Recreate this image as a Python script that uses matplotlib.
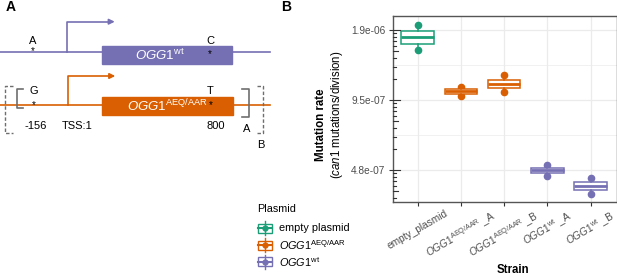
import numpy as np
import matplotlib
matplotlib.use("Agg")
import matplotlib.pyplot as plt
from matplotlib.patches import Rectangle

plt.rcParams['font.family'] = ['Liberation Sans', 'DejaVu Sans']
plt.rcParams['mathtext.fontset'] = 'custom'
plt.rcParams['mathtext.rm'] = 'Liberation Sans'
plt.rcParams['mathtext.it'] = 'Liberation Sans:italic'
plt.rcParams['mathtext.bf'] = 'Liberation Sans:bold'

# data (mutation rate, 3 fluctuation assays per strain)
strains = ["empty_plasmid", "OGG1_AEQ_A", "OGG1_AEQ_B", "OGG1_wt_A", "OGG1_wt_B"]
strain_labels = ["empty_plasmid",
                 r"$\mathit{OGG1}^{\mathrm{AEQ/AAR}}$ _A",
                 r"$\mathit{OGG1}^{\mathrm{AEQ/AAR}}$ _B",
                 r"$\mathit{OGG1}^{\mathrm{wt}}$ _A",
                 r"$\mathit{OGG1}^{\mathrm{wt}}$ _B"]
empty_plasmid = [2.01e-6, 1.774e-6, 1.564e-6]
aeq_a = [1.088e-6, 1.042e-6, 0.989e-6]
aeq_b = [1.218e-6, 1.117e-6, 1.032e-6]
wt_a = [5.009e-7, 4.755e-7, 4.49e-7]
wt_b = [4.418e-7, 4.067e-7, 3.748e-7]
rates = [empty_plasmid, aeq_a, aeq_b, wt_a, wt_b]
plasmid = ["empty plasmid", "AEQ", "AEQ", "wt", "wt"]
legend_labels = ["empty plasmid", r"$\mathit{OGG1}^{\mathrm{AEQ/AAR}}$", r"$\mathit{OGG1}^{\mathrm{wt}}$"]
colors = {"empty plasmid": "#1B9E77", "AEQ": "#D95F02", "wt": "#7570B3"}
ybreaks = [-19, -20, -21]

W, H = 617, 278
fig = plt.figure(figsize=(W / 100, H / 100), dpi=100)

# overlay axes in pixel coords for panel A + legend
ax0 = fig.add_axes([0, 0, 1, 1])
ax0.set_xlim(0, W)
ax0.set_ylim(H, 0)
ax0.axis('off')

purple = colors["wt"]
orange = colors["AEQ"]
gray = "#6E6E6E"

ax0.text(6, 7, "A", fontsize=10, fontweight='bold', va='center')
ax0.text(281, 7, "B", fontsize=10, fontweight='bold', va='center')

# wt construct
ax0.plot([0, 270], [52, 52], color=purple, lw=1.2)
ax0.add_patch(Rectangle((101.7, 45.7), 130, 18.3, color=purple, zorder=3))
ax0.plot([67.3, 67.3, 110], [52, 21.7, 21.7], color=purple, lw=1.2)
ax0.annotate("", xy=(117.5, 21.7), xytext=(108, 21.7),
             arrowprops=dict(arrowstyle='-|>', color=purple, lw=1.2, mutation_scale=8))
ax0.text(160, 55, r"$\mathit{OGG1}^{\mathrm{wt}}$", color='white', fontsize=9.5,
         ha='center', va='center', zorder=4)
ax0.text(32.7, 41.5, "A", fontsize=8, ha='center', va='center')
ax0.text(32.7, 51, "*", fontsize=7, ha='center', va='center')
ax0.text(210, 41, "C", fontsize=8, ha='center', va='center')
ax0.text(210, 54, "*", fontsize=7, ha='center', va='center', zorder=5)

# AEQ/AAR construct
ax0.plot([0, 270], [104.7, 104.7], color=orange, lw=1.2)
ax0.add_patch(Rectangle((101.7, 96.7), 131, 18.3, color=orange, zorder=3))
ax0.plot([68, 68, 110], [104.7, 76, 76], color=orange, lw=1.2)
ax0.annotate("", xy=(118, 76), xytext=(108, 76),
             arrowprops=dict(arrowstyle='-|>', color=orange, lw=1.2, mutation_scale=8))
ax0.text(168, 106, r"$\mathit{OGG1}^{\mathrm{AEQ/AAR}}$", color='white', fontsize=9.5,
         ha='center', va='center', zorder=4)
ax0.text(34, 91, "G", fontsize=8, ha='center', va='center')
ax0.text(33.5, 105.5, "*", fontsize=7, ha='center', va='center')
ax0.text(210, 91, "T", fontsize=8, ha='center', va='center')
ax0.text(211, 105.5, "*", fontsize=7, ha='center', va='center', zorder=5)

# brackets
ax0.plot([23.3, 16.7, 16.7, 23.3], [89, 89, 108, 108], color=gray, lw=1.2)
ax0.plot([241.7, 249.3, 249.3, 241.7], [89, 89, 117.3, 117.3], color=gray, lw=1.2)
ax0.plot([12.7, 5, 5, 12.7], [86, 86, 133.3, 133.3], color=gray, lw=1.0, ls=(0, (2.5, 1.5)))
ax0.plot([256.7, 263.3, 263.3, 256.7], [86, 86, 133.3, 133.3], color=gray, lw=1.0, ls=(0, (2.5, 1.5)))

ax0.text(36, 126, "-156", fontsize=8, ha='center', va='center')
ax0.text(77.3, 126, "TSS:1", fontsize=8, ha='center', va='center')
ax0.text(216, 126, "800", fontsize=8, ha='center', va='center')
ax0.text(246.7, 129.5, "A", fontsize=8, ha='center', va='center')
ax0.text(260.7, 145.5, "B", fontsize=8, ha='center', va='center')

# legend
ax0.text(257, 209, "Plasmid", fontsize=7.8, va='center')
leg_y = [228.3, 245, 261.7]
for lab, key, y in zip(legend_labels, ["empty plasmid", "AEQ", "wt"], leg_y):
    c = colors[key]
    ax0.plot([264.5, 264.5], [y - 7, y + 7], color=c, lw=1.0)
    ax0.add_patch(Rectangle((257.5, y - 4.5), 14, 9, facecolor='white', edgecolor=c, lw=1.0))
    ax0.plot([257.5, 271.5], [y, y], color=c, lw=1.5)
    ax0.plot(264.5, y, 'o', color=c, ms=3.5)
    ax0.text(279, y, lab, fontsize=7.8, va='center')

# panel B
ax = fig.add_axes([392.5 / W, 1 - 201.5 / H, 224 / W, 185.8 / H])
ax.set_xlim(0.42, 5.6)
ax.set_ylim(-21.45, -18.796)

for i, (vals, key) in enumerate(zip(rates, plasmid)):
    c = colors[key]
    y = np.log2(vals)
    pos = i + 1
    ax.plot([pos] * len(y), y, 'o', color=c, ms=4.5, zorder=2)
    ax.boxplot([y], positions=[pos], widths=0.75, showcaps=False, showfliers=False,
               patch_artist=True,
               boxprops=dict(facecolor='white', edgecolor=c, lw=1.1),
               whiskerprops=dict(color=c, lw=1.1),
               medianprops=dict(color=c, lw=2.0),
               zorder=3)

ax.set_xticks(range(1, 6))
ax.set_xticklabels(strain_labels, rotation=30, ha='center', va='top')
ax.set_yticks(ybreaks)
ax.set_yticklabels(["%.1e" % (2.0 ** b) for b in ybreaks])
ax.set_yticks([-19.5, -20.5], minor=True)
ax.tick_params(axis='both', which='major', labelsize=7.3, labelcolor='#4D4D4D',
               color='#333333', length=3, width=0.8, pad=2)
ax.tick_params(axis='y', which='minor', length=0)
ax.grid(True, which='major', color='#EBEBEB', lw=0.9, zorder=0)
ax.grid(True, which='minor', axis='y', color='#EBEBEB', lw=0.5, zorder=0)
ax.set_axisbelow(True)
for s in ax.spines.values():
    s.set_color('#555555')
    s.set_linewidth(1.0)

# log ticks inside the left side
for p in range(-22, -17):
    for k in range(1, 10):
        yt = p + np.log10(k)
        if yt < -21.45 or yt > -18.796:
            continue
        ln = 7 if k == 1 else (5 if k == 5 else 3)
        ax.plot([0, ln / 224], [yt, yt], color='#333333', lw=0.8,
                transform=ax.get_yaxis_transform(), clip_on=False, zorder=5)

fig.text(513 / W, 1 - 270 / H, "Strain", fontsize=8.3, fontweight='bold',
         ha='center', va='center')
fig.text(321.5 / W, 1 - 125 / H, "Mutation rate", rotation=90, fontsize=8.3,
         fontweight='bold', ha='center', va='center')
fig.text(337 / W, 1 - 115 / H, r"($\mathit{can1}$ mutations/division)", rotation=90,
         fontsize=8.3, ha='center', va='center')

fig.savefig("out.png", dpi=100)
